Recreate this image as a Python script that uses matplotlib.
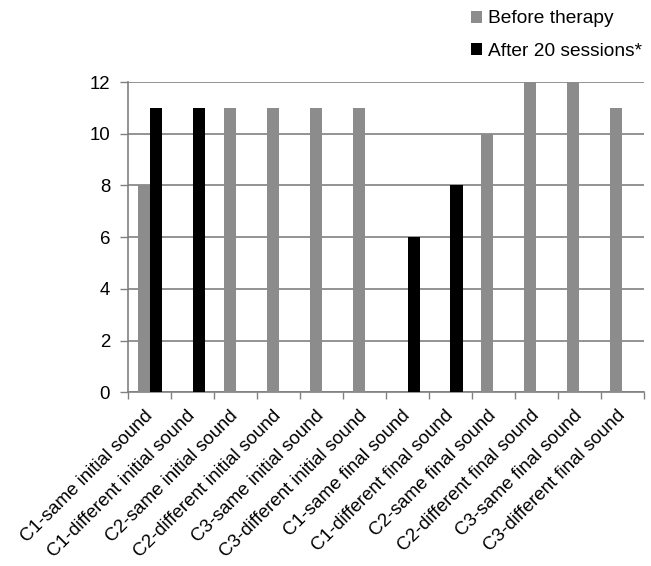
from matplotlib import pyplot as plt
import numpy as np

plt.rcParams['font.family'] = ['Liberation Sans', 'DejaVu Sans']

categories = ['C1-same initial sound', 'C1-different initial sound',
              'C2-same initial sound', 'C2-different initial sound',
              'C3-same initial sound', 'C3-different initial sound',
              'C1-same final sound', 'C1-different final sound',
              'C2-same final sound', 'C2-different final sound',
              'C3-same final sound', 'C3-different final sound']
before = [8, 0, 11, 11, 11, 11, 0, 0, 10, 12, 12, 11]
after = [11, 11, 0, 0, 0, 0, 6, 8, 0, 0, 0, 0]

grey = '#8c8c8c'
axis_col = '#808080'

fig = plt.figure(figsize=(6.51, 5.66), dpi=100)
ax = fig.add_axes([0.197, 0.307, 0.792, 0.548])

x = np.arange(len(categories))
w = 0.28
ax.bar(x - w/2, before, w, color=grey, label='Before therapy', zorder=3)
ax.bar(x + w/2, after, w, color='black', label='After 20 sessions*', zorder=3)

ax.set_xlim(-0.5, len(categories) - 0.5)
ax.set_ylim(0, 12)
ax.set_yticks(np.arange(0, 13, 2))
ax.yaxis.grid(True, color=axis_col, linewidth=1.2, zorder=0)

# category boundary ticks on x
ax.set_xticks(np.arange(-0.5, len(categories)), minor=False)
ax.set_xticklabels([])
ax.set_xticks(x, minor=True)
ax.set_xticklabels(categories, minor=True, rotation=45, ha='right',
                   va='center', rotation_mode='anchor', fontsize=13.4)
ax.tick_params(axis='x', which='minor', length=0, pad=15)
ax.tick_params(axis='x', which='major', length=5, color=axis_col, width=1)
ax.tick_params(axis='y', length=6, pad=7, color=axis_col, width=1,
               labelsize=13.4)

for s in ['top', 'right']:
    ax.spines[s].set_visible(False)
for s in ['left', 'bottom']:
    ax.spines[s].set_color(axis_col)
    ax.spines[s].set_linewidth(1.2)

fig.legend(loc='upper right', bbox_to_anchor=(1.012, 1.012), frameon=False,
           fontsize=13.8, handlelength=0.6, handleheight=0.6,
           handletextpad=0.28, labelspacing=0.8)

plt.savefig('out.png')
